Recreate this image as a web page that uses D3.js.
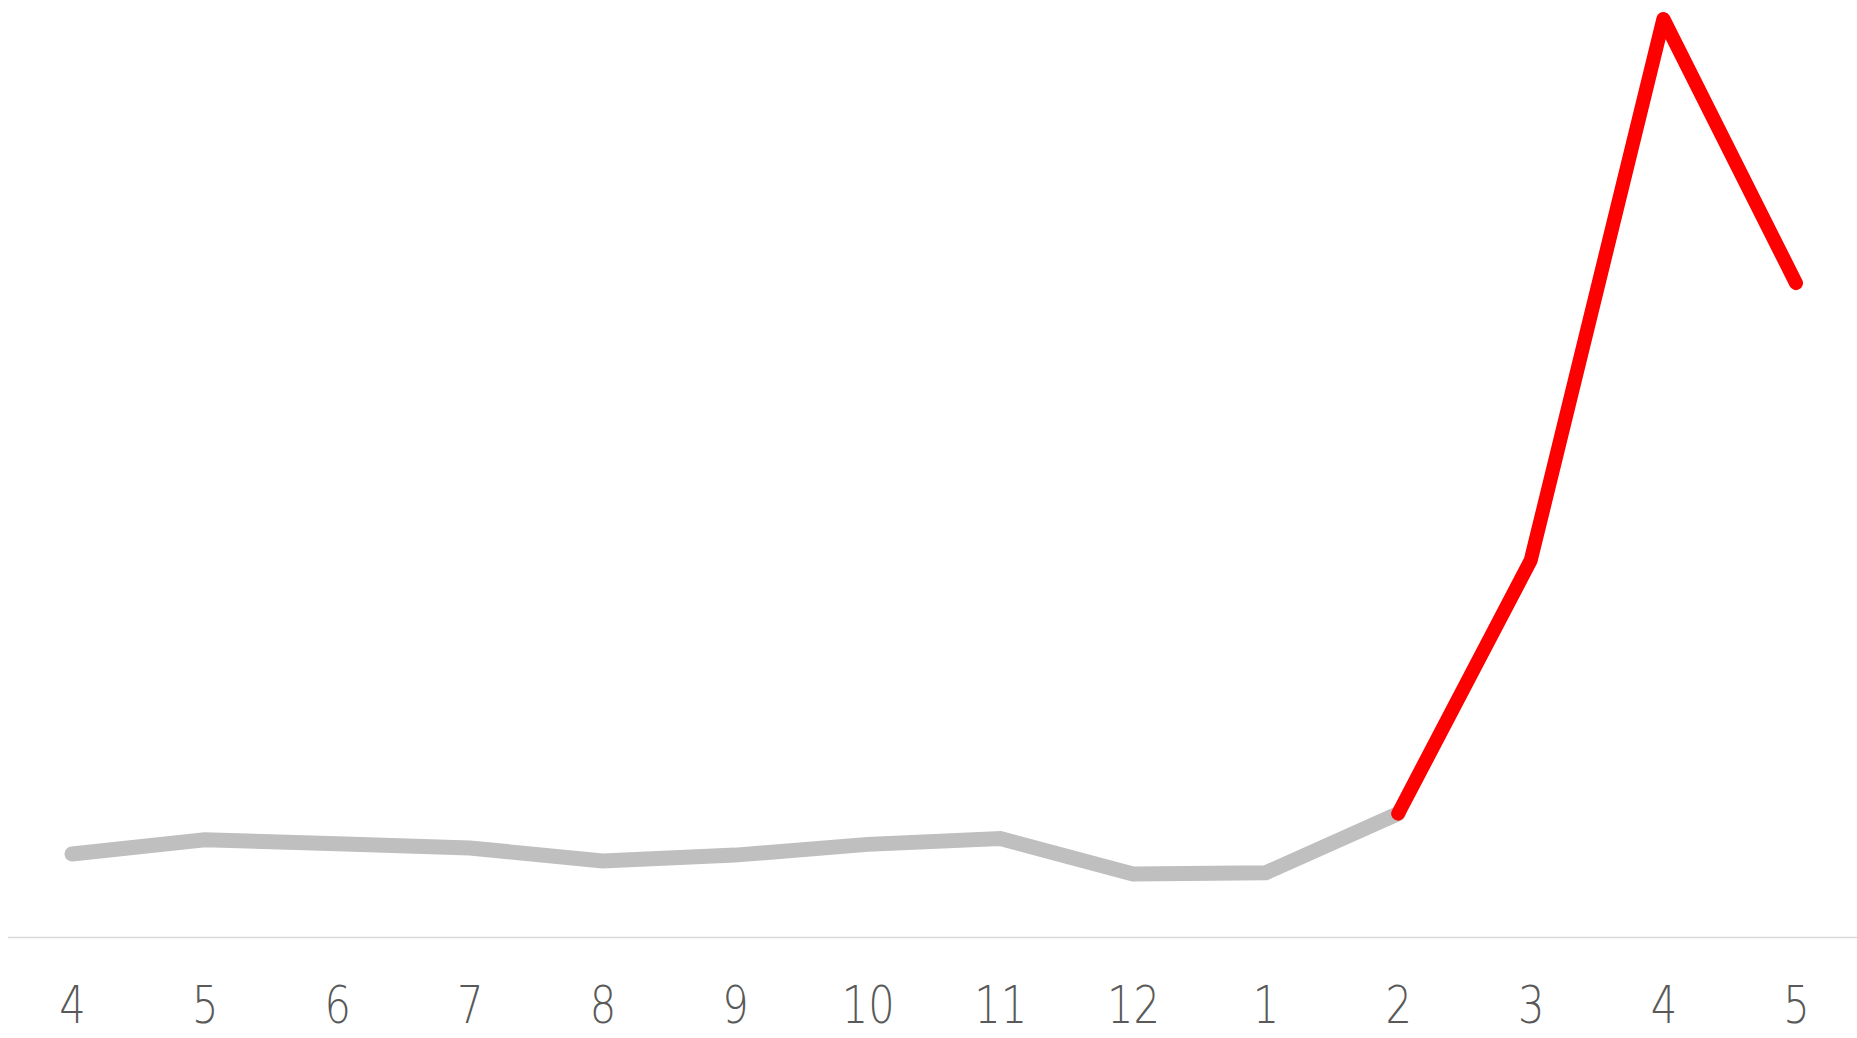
<!DOCTYPE html>
<html>
<head>
<meta charset="utf-8">
<script src="https://cdn.jsdelivr.net/npm/d3@7"></script>
<style>
  html, body { margin: 0; padding: 0; background: #fff; }
  svg { display: block; }
</style>
</head>
<body>
<svg id="chart" width="1857" height="1038"></svg>
<script>
// Month labels (April of one year through May of the next)
const monthLabels = ["4", "5", "6", "7", "8", "9", "10", "11", "12", "1", "2", "3", "4", "5"];
// Values (relative index, peak = 100)
const values = [9.05, 10.6, 10.15, 9.7, 8.28, 8.92, 10.09, 10.73, 6.86, 6.99, 13.44, 41.05, 100, 71.23];
// Index where the highlighted (red) part begins
const highlightStart = 10;

const W = 1857, H = 1038;
const svg = d3.select("#chart");

const x = d3.scalePoint()
  .domain(d3.range(monthLabels.length))
  .range([72, 1796]);

const y = d3.scaleLinear()
  .domain([0, 100])
  .range([937, 19]);

// baseline
svg.append("line")
  .attr("x1", 8).attr("x2", W)
  .attr("y1", 937.5).attr("y2", 937.5)
  .attr("stroke", "#d9d9d9")
  .attr("stroke-width", 1.5);

// x axis labels
const axis = d3.axisBottom(x)
  .tickSize(0)
  .tickFormat(i => monthLabels[i]);

const gAxis = svg.append("g")
  .attr("transform", "translate(0,937)")
  .call(axis);
gAxis.select(".domain").remove();
gAxis.selectAll("text")
  .attr("y", 86)
  .attr("dy", 0)
  .attr("fill", "#595959")
  .attr("transform", "scale(0.8,1)")
  .style("font-family", "'DejaVu Sans', sans-serif")
  .style("font-weight", 200)
  .style("font-size", "52px");

const line = d3.line()
  .x(d => x(d.i))
  .y(d => y(d.v));

const pts = values.map((v, i) => ({ i, v }));

svg.append("path")
  .datum(pts.slice(0, highlightStart + 1))
  .attr("d", line)
  .attr("fill", "none")
  .attr("stroke", "#bfbfbf")
  .attr("stroke-width", 15)
  .attr("stroke-linecap", "round")
  .attr("stroke-linejoin", "miter");

svg.append("path")
  .datum(pts.slice(highlightStart))
  .attr("d", line)
  .attr("fill", "none")
  .attr("stroke", "#ff0000")
  .attr("stroke-width", 14)
  .attr("stroke-linecap", "round")
  .attr("stroke-linejoin", "round");
</script>
</body>
</html>
